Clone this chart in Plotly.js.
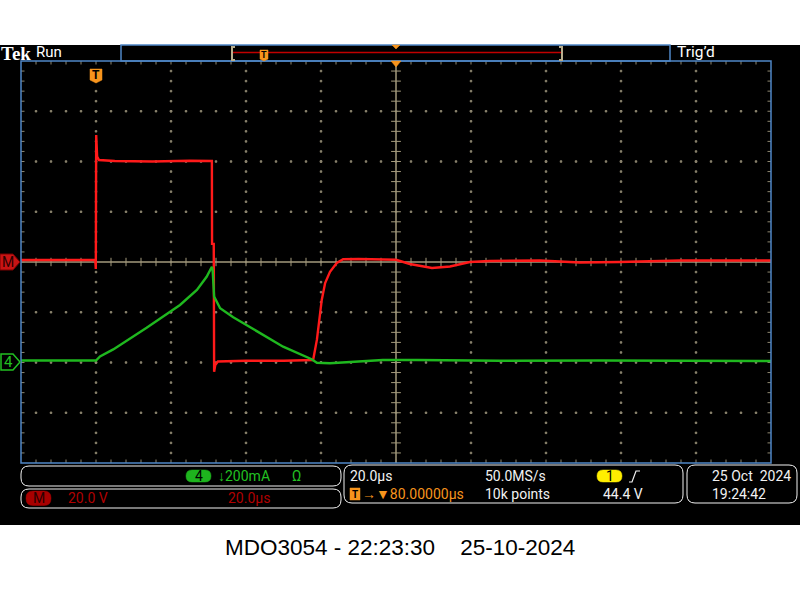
<!DOCTYPE html>
<html><head><meta charset="utf-8">
<script src="https://cdn.plot.ly/plotly-3.0.1.min.js"></script>
<style>body{margin:0;background:#fff}#chart{width:800px;height:600px}</style>
</head><body><div id="chart"></div>
<script>
// ---- data (time in µs, math trace in V, ch4 in mA) ----
const redTime  = [-20,-12,-5,-0.2,-0.05,0,0.05,0.3,0.8,5,15,25,30.9,30.95,31.4,31.5,31.8,32.5,40,50,57.5,57.9,58.9,59.7,60.2,61.1,62.4,64.2,65.9,70,80,83.7,89.6,94.4,99.7,105,118.4,129,139.7,155.7,180];
const redVolts = [0.8,0.7,0.9,0.8,-2.8,20,50.5,42,40.6,40.2,40.0,40.3,40.2,7.2,7.2,-43.7,-41,-39.6,-39.3,-39.3,-39.2,-39.0,-31.0,-21.8,-15.1,-8.4,-3.9,-0.4,1.1,1.2,0.9,-0.8,-2.4,-1.8,0,0.4,0.6,-0.2,0,0.6,0.6];
const grnTime  = [-20,-10,0,1.07,4.6,13.5,22.4,26.9,29.5,30.9,31.1,31.5,33.1,36.6,40.2,43.7,49.9,57.5,58.9,62.4,67.7,76.5,85.5,107.7,134.4,180];
const grnMilliamps = [8,7,8,24,52,138,229,289,341,381,368,262,216,180,149,116,63,13,-1,-3,3,10,10,7,8,6];
const timeRange = [-20,180];      // 20 µs/div, trigger 1 div from left
const voltRange = [-80,80];       // 20 V/div
const ampRange  = [-400,1200];    // 200 mA/div, offset -2 div

// ---- geometry helpers (pixel -> paper) ----
const L=21,R=771,T=61,B=463;
const PX=x=>(x-L)/(R-L), PY=y=>(B-y)/(B-T);
function poly(pts){return 'M'+pts.map(p=>PX(p[0])+','+PY(p[1])).join(' L')+' Z';}
function openPoly(pts){return 'M'+pts.map(p=>PX(p[0])+','+PY(p[1])).join(' L');}
function rr(x0,y0,x1,y1,r){
  return `M${PX(x0+r)},${PY(y0)} L${PX(x1-r)},${PY(y0)} Q${PX(x1)},${PY(y0)} ${PX(x1)},${PY(y0+r)} L${PX(x1)},${PY(y1-r)} Q${PX(x1)},${PY(y1)} ${PX(x1-r)},${PY(y1)} L${PX(x0+r)},${PY(y1)} Q${PX(x0)},${PY(y1)} ${PX(x0)},${PY(y1-r)} L${PX(x0)},${PY(y0+r)} Q${PX(x0)},${PY(y0)} ${PX(x0+r)},${PY(y0)} Z`;
}
const shapes=[], ann=[];
function pathShape(path,fill,line,lw,layer){shapes.push({type:'path',xref:'paper',yref:'paper',path:path,fillcolor:fill||'rgba(0,0,0,0)',line:{color:line||'rgba(0,0,0,0)',width:lw||0},layer:layer||'above'});}
function rect(x0,y0,x1,y1,fill,line,lw,layer){shapes.push({type:'rect',xref:'paper',yref:'paper',x0:PX(x0),x1:PX(x1),y0:PY(y1),y1:PY(y0),fillcolor:fill||'rgba(0,0,0,0)',line:{color:line||'rgba(0,0,0,0)',width:lw||0},layer:layer||'above'});}
function txt(x,y,s,color,size,fam,anchor,weight){ann.push({xref:'paper',yref:'paper',x:PX(x),y:PY(y),text:s,showarrow:false,xanchor:anchor||'left',yanchor:'middle',borderpad:0,font:{color:color,size:size,family:fam||'Roboto, Liberation Sans, sans-serif',weight:weight||'normal'}});}

const ORANGE='#f7941d', TAN='#a39a7c', DOT='#8e8770', BLUE='#4f86c6', WH='#f2f2f2';
// white bands outside the screen
rect(0,0,800,45,'#ffffff',null,0,'below');
rect(0,525,800,600,'#ffffff',null,0,'below');
// graticule border
rect(21,61,771,463,null,BLUE,1.5,'above');
// centre lines
shapes.push({type:'line',xref:'x',yref:'paper',x0:80,x1:80,y0:0,y1:1,line:{color:TAN,width:1.5},layer:'below'});
shapes.push({type:'line',xref:'paper',yref:'y',x0:0,x1:1,y0:0,y1:0,line:{color:TAN,width:1.5},layer:'below'});

// top bar
txt(0,53,'<b>Tek</b>','#ffffff',19,'Liberation Serif, serif');
txt(35,52,'Run','#ffffff',15);
rect(121,45,670,61,null,BLUE,1.5);
shapes.push({type:'line',xref:'paper',yref:'paper',x0:PX(232),x1:PX(562),y0:PY(52.5),y1:PY(52.5),line:{color:'#c00000',width:1.5}});
pathShape(openPoly([[235,47],[232,47],[232,60],[235,60]]),null,'#b8ad8c',2);
pathShape(openPoly([[559,47],[562,47],[562,60],[559,60]]),null,'#b8ad8c',2);
pathShape(poly([[260,50],[268,50],[268,59],[264,61],[260,59]]),ORANGE,ORANGE,0.5);
txt(264,55,'<b>T</b>','#000',9,null,'center');
pathShape(poly([[392,45],[400,45],[396,49]]),ORANGE,ORANGE,0.5);
txt(676,52,'Trig\u2019d','#ffffff',15.5);
// graticule markers
pathShape(poly([[391,61],[401,61],[396,67]]),ORANGE,ORANGE,0.5);
pathShape(poly([[90,69],[102,69],[102,80],[96,83],[90,80]]),ORANGE,ORANGE,0.5);
txt(96,75.5,'<b>T</b>','#000',12,null,'center');
pathShape(poly([[0,254],[13,254],[20,262],[13,270],[0,270]]),'#c81414','#7a0000',1);
txt(7.5,262,'M','#2a0000',14,null,'center');
pathShape(poly([[1,354],[13,354],[20,362],[13,370],[1,370]]),'#000','#22c022',1.5);
txt(8,362,'4','#22c022',15,null,'center');

// bottom panel
pathShape(rr(21,466,341,486,8),null,WH,1);
pathShape(rr(21,489,341,508,8),null,WH,1);
pathShape(rr(344,465,683,503,8),null,WH,1);
pathShape(rr(687,465,797,503,8),null,WH,1);
pathShape(rr(186,470,211,482,6),'#1eb41e','#1eb41e',0.5);
txt(198.5,476,'4','#000',14,null,'center');
txt(217,476,'\u2193200mA','#22c022',14);
txt(291,476,'\u03a9','#22c022',14);
pathShape(rr(26,491,51,505.5,7),'#a80000','#a80000',0.5);
txt(38.5,498,'M','#2a0000',14,null,'center');
txt(67,498,'20.0 V','#b00000',14);
txt(227,498,'20.0\u00b5s','#b00000',14);
txt(349,476,'20.0\u00b5s',WH,14);
txt(484,476,'50.0MS/s',WH,14);
pathShape(rr(597,470,622,482,6),'#ffee00','#ffee00',0.5);
txt(609.5,476,'1','#000',14,null,'center');
pathShape(openPoly([[629,482],[632,482],[636,471],[640,471]]),null,WH,1.2);
rect(350,488,360,500,ORANGE,ORANGE,0.5);
txt(355,494,'<b>T</b>','#000',10,null,'center');
txt(361,494,'\u2192\u25bc80.00000\u00b5s',ORANGE,14);
txt(484,494,'10k points',WH,14);
txt(602,494,'44.4 V',WH,14);
txt(711,476,'25 Oct\u00a0\u00a02024',WH,14);
txt(711,494,'19:24:42',WH,14);
// caption
txt(400,547,'MDO3054 - 22:23:30\u00a0\u00a0\u00a0 25-10-2024','#000',22.5,'Liberation Sans, Arial, sans-serif','center');

// ---- graticule dots and ticks (generated) ----
const gx=[],gy=[],hx=[],hy=[],vx=[],vy=[],bx=[],by=[],ex=[],ey=[];
for(let k=1;k<50;k++){const t=-20+4*k;
  [-60,-40,-20,20,40,60].forEach(v=>{gx.push(t);gy.push(v);});
  if(t!==80){hx.push(t);hy.push(0);}
  bx.push(t,t);by.push(80,-80);
}
for(let k=1;k<40;k++){const v=-80+4*k;
  [0,20,40,60,100,120,140,160].forEach(t=>{gx.push(t);gy.push(v);});
  if(v!==0){vx.push(80);vy.push(v);}
  ex.push(-20,180);ey.push(v,v);
}
const deco=(x,y,sym,size,c)=>({x:x,y:y,mode:'markers',type:'scatter',hoverinfo:'skip',showlegend:false,
  marker:{symbol:sym,size:size,color:c,line:{color:c,width:1}}});

const traces=[
  deco(gx,gy,'square',1.5,DOT),
  deco(hx,hy,'line-ns',6,TAN),
  deco(vx,vy,'line-ew',7,TAN),
  deco(bx,by,'line-ns',5,DOT),
  deco(ex,ey,'line-ew',5,DOT),
  {x:grnTime,y:grnMilliamps,yaxis:'y2',mode:'lines',type:'scatter',line:{color:'#1fb81f',width:2.4},hoverinfo:'skip',showlegend:false},
  {x:redTime,y:redVolts,mode:'lines',type:'scatter',line:{color:'#ff1a1a',width:2.4},hoverinfo:'skip',showlegend:false}
];
const ax={showgrid:false,zeroline:false,showticklabels:false,ticks:'',showline:false,fixedrange:true};
const layout={width:800,height:600,margin:{l:21,r:29,t:61,b:137,pad:0},
  paper_bgcolor:'#000',plot_bgcolor:'#000',showlegend:false,
  xaxis:Object.assign({range:timeRange},ax),
  yaxis:Object.assign({range:voltRange},ax),
  yaxis2:Object.assign({range:ampRange,overlaying:'y'},ax),
  shapes:shapes,annotations:ann};
Plotly.newPlot('chart',traces,layout,{staticPlot:true,displayModeBar:false});
</script></body></html>
